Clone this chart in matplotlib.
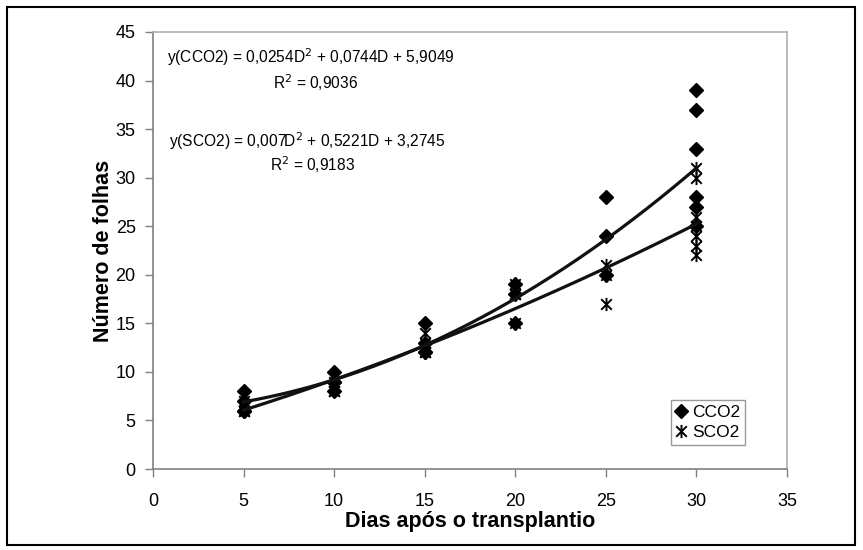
import matplotlib
matplotlib.use("Agg")
import matplotlib.pyplot as plt
import numpy as np
from matplotlib.path import Path
from matplotlib.patches import Rectangle

plt.rcParams['font.family'] = ['Liberation Sans', 'DejaVu Sans']

# Data
cco2_x = [5, 5, 5, 5, 10, 10, 10, 10, 15, 15, 15, 15, 20, 20, 20, 25, 25, 25, 30, 30, 30, 30, 30, 30]
cco2_y = [8, 7, 6, 6, 10, 9, 9, 8, 15, 13, 12, 12, 19, 18, 15, 28, 24, 20, 39, 37, 33, 28, 27, 25]
sco2_x = [5, 5, 5, 10, 10, 10, 15, 15, 15, 15, 20, 20, 20, 20, 25, 25, 25, 30, 30, 30, 30, 30, 30, 30]
sco2_y = [7, 6, 6, 9, 8, 8, 14, 13, 12, 12, 19, 18, 18, 15, 21, 20, 17, 31, 30, 26, 25, 24, 23, 22]

# Fitted equations shown on chart (a*D^2 + b*D + c)
cco2_coef = [0.0254, 0.0744, 5.9049]
sco2_coef = [0.007, 0.5221, 3.2745]
fit_range = [5, 30]

eq_cco2 = "y(CCO2) = 0,0254D$^2$ + 0,0744D + 5,9049"
r2_cco2 = "R$^2$ = 0,9036"
eq_sco2 = "y(SCO2) = 0,007D$^2$ + 0,5221D + 3,2745"
r2_sco2 = "R$^2$ = 0,9183"

xticks = [0, 5, 10, 15, 20, 25, 30, 35]
yticks = [0, 5, 10, 15, 20, 25, 30, 35, 40, 45]

W, H = 863, 550
fig = plt.figure(figsize=(W / 100, H / 100), dpi=100)
ax = fig.add_axes([153 / W, 1 - 469 / H, (787 - 153) / W, (469 - 32) / H])

star = Path([(-1, -1), (1, 1), (-1, 1), (1, -1), (0, -1.25), (0, 1.25)],
            [Path.MOVETO, Path.LINETO, Path.MOVETO, Path.LINETO, Path.MOVETO, Path.LINETO])

ax.plot(cco2_x, cco2_y, linestyle='none', marker='D', markersize=7,
        color='black', label='CCO2')
ax.plot(sco2_x, sco2_y, linestyle='none', marker=star, markersize=9.5,
        markerfacecolor='none', markeredgecolor='black', markeredgewidth=1.4,
        label='SCO2')

xs = np.linspace(fit_range[0], fit_range[1], 200)
ax.plot(xs, np.polyval(cco2_coef, xs), color='#111111', lw=2.3)
ax.plot(xs, np.polyval(sco2_coef, xs), color='#111111', lw=2.3)

ax.set_xlim(0, 35)
ax.set_ylim(0, 45)
ax.set_xticks(xticks)
ax.set_yticks(yticks)
ax.tick_params(direction='out', length=6, width=1, color='#808080',
               labelsize=13)
ax.tick_params(axis='y', pad=6.5)
ax.tick_params(axis='x', pad=11)
for s in ['left', 'bottom']:
    ax.spines[s].set_color('#808080')
for s in ['top', 'right']:
    ax.spines[s].set_color('#b0b0b0')
for s in ax.spines.values():
    s.set_linewidth(1.2)

ax.set_xlabel('Dias após o transplantio', fontsize=15.5, fontweight='bold')
ax.set_ylabel('Número de folhas', fontsize=15.5, fontweight='bold')
ax.xaxis.label.set_va('center')
ax.yaxis.label.set_va('center')
ax.xaxis.set_label_coords(0.5, (469 - 522) / 437)
ax.yaxis.set_label_coords((104 - 153) / 634, 0.5)

ax.text(8.72, 42.4, eq_cco2, ha='center', va='center', fontsize=11.2)
ax.text(9.0, 39.75, r2_cco2, ha='center', va='center', fontsize=11.2)
ax.text(8.53, 33.8, eq_sco2, ha='center', va='center', fontsize=11.2)
ax.text(8.8, 31.3, r2_sco2, ha='center', va='center', fontsize=11.2)

leg = ax.legend(loc='lower right', bbox_to_anchor=(0.934, 0.055), fontsize=12.5,
                frameon=True, fancybox=False, edgecolor='#808080',
                handlelength=0.6, handletextpad=0.3, borderpad=0.3,
                labelspacing=0.25, borderaxespad=0)
leg.get_frame().set_linewidth(1.0)

fig.patches.append(Rectangle((7 / W, 1 - 545 / H), (855 - 7) / W, (545 - 7) / H,
                             transform=fig.transFigure, fill=False,
                             edgecolor='black', linewidth=1.5))

fig.savefig('out.png', dpi=100)
